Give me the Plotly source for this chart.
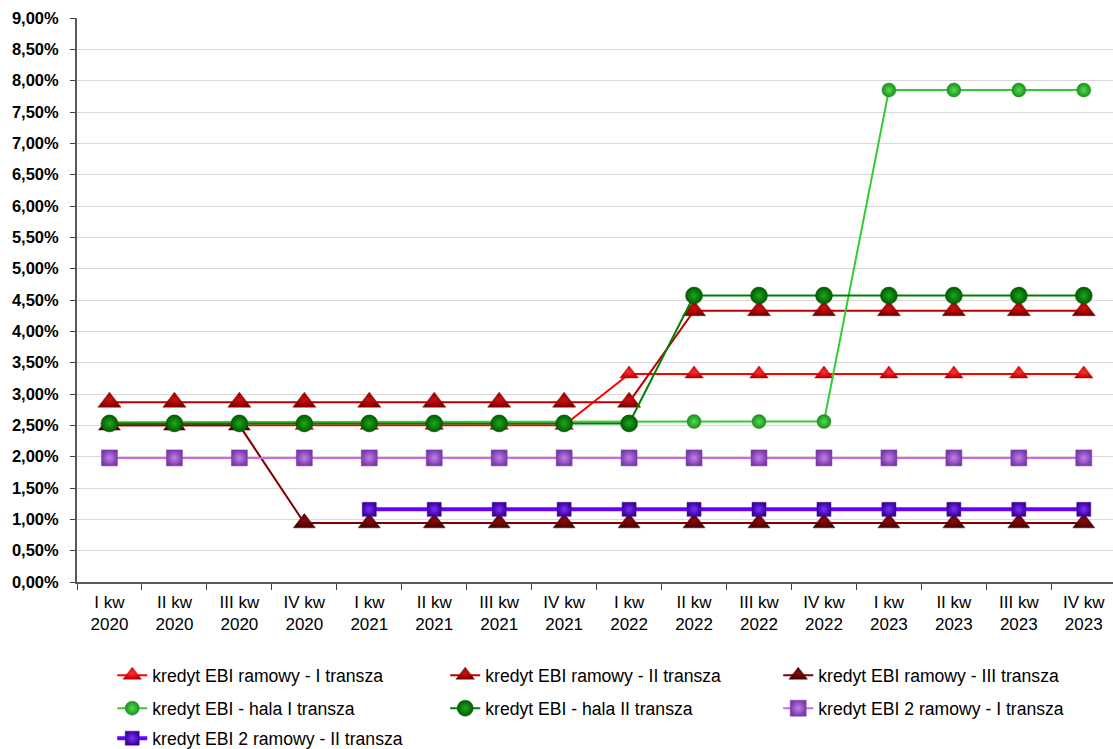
import plotly.graph_objects as go

quarters = ["I kw<br>2020", "II kw<br>2020", "III kw<br>2020", "IV kw<br>2020",
            "I kw<br>2021", "II kw<br>2021", "III kw<br>2021", "IV kw<br>2021",
            "I kw<br>2022", "II kw<br>2022", "III kw<br>2022", "IV kw<br>2022",
            "I kw<br>2023", "II kw<br>2023", "III kw<br>2023", "IV kw<br>2023"]

ramowy_1 = [2.50, 2.50, 2.50, 2.50, 2.50, 2.50, 2.50, 2.50,
            3.32, 3.32, 3.32, 3.32, 3.32, 3.32, 3.32, 3.32]
ramowy_2 = [2.87, 2.87, 2.87, 2.87, 2.87, 2.87, 2.87, 2.87,
            2.87, 4.33, 4.33, 4.33, 4.33, 4.33, 4.33, 4.33]
ramowy_3 = [2.50, 2.50, 2.50, 0.94, 0.94, 0.94, 0.94, 0.94,
            0.94, 0.94, 0.94, 0.94, 0.94, 0.94, 0.94, 0.94]
hala_1 = [2.55, 2.55, 2.55, 2.55, 2.55, 2.55, 2.55, 2.55,
          2.55, 2.56, 2.56, 2.56, 7.85, 7.85, 7.85, 7.85]
hala_2 = [2.53, 2.53, 2.53, 2.53, 2.53, 2.53, 2.53, 2.53,
          2.53, 4.57, 4.57, 4.57, 4.57, 4.57, 4.57, 4.57]
ramowy2_1 = [1.98] * 16
ramowy2_2 = [None, None, None, None, 1.16, 1.16, 1.16, 1.16,
             1.16, 1.16, 1.16, 1.16, 1.16, 1.16, 1.16, 1.16]

names = ["kredyt EBI ramowy - I transza", "kredyt EBI ramowy - II transza",
         "kredyt EBI ramowy - III transza", "kredyt EBI - hala I transza",
         "kredyt EBI - hala II transza", "kredyt EBI 2 ramowy - I transza",
         "kredyt EBI 2 ramowy - II transza"]

FONT = "Liberation Sans, Arial, sans-serif"

# (values, line colour, line width, symbol, size, edge colour, centre colour, legend)
styles = [
    (ramowy_1, "#FF0000", 2, "triangle-up", 16, "#C00000", "#FF3030", "legend"),
    (ramowy_2, "#C00000", 2, "triangle-up", 20, "#800000", "#D01010", "legend"),
    (ramowy_3, "#800000", 2, "triangle-up", 19, "#4A0000", "#8A0A0A", "legend"),
    (hala_1, "#33CC33", 2, "circle", 14, "#1E8E1E", "#4FE04F", "legend2"),
    (hala_2, "#008000", 2, "circle", 17, "#005A00", "#1FA81F", "legend2"),
    (ramowy2_1, "#CC66FF", 2, "square", 16, "#7A3AA8", "#C080F0", "legend2"),
    (ramowy2_2, "#6600FF", 4, "square", 14, "#3D0099", "#7733FF", "legend3"),
]

fig = go.Figure()
for name, (vals, lc, lw, sym, size, edge, centre, leg) in zip(names, styles):
    fig.add_trace(go.Scatter(
        x=quarters, y=vals, name=name, mode="lines+markers",
        line=dict(color=lc, width=lw),
        marker=dict(symbol=sym, size=size, color=edge,
                    gradient=dict(type="radial", color=centre),
                    line=dict(color=edge, width=0.5)),
        legend=leg, connectgaps=False,
    ))

leg_common = dict(orientation="h", xanchor="left", yanchor="middle",
                  font=dict(family=FONT, size=17.6, color="#000000"),
                  entrywidth=288, entrywidthmode="pixels",
                  bgcolor="rgba(0,0,0,0)", itemclick=False)

fig.update_layout(
    width=1113, height=749,
    margin=dict(l=77, r=0, t=18, b=167, autoexpand=False),
    paper_bgcolor="white", plot_bgcolor="white",
    separators=", ",
    font=dict(family=FONT, size=16, color="#000000"),
    legend=dict(x=0.034, y=-0.1653, **leg_common),
    legend2=dict(x=0.034, y=-0.2238, **leg_common),
    legend3=dict(x=0.034, y=-0.2770, **leg_common),
    xaxis=dict(
        type="category", range=[-0.5, 15.45], automargin=False,
        showgrid=False, showline=True, linecolor="#595959", linewidth=1.5,
        ticks="outside", tickson="boundaries", ticklen=6, tickcolor="#404040",
        ticklabelstandoff=4,
        tickfont=dict(family=FONT, size=17, color="#000000"),
        fixedrange=True,
    ),
    yaxis=dict(
        range=[0, 9], dtick=0.5, tick0=0, automargin=False,
        tickformat=".2f", ticksuffix="%",
        showgrid=True, gridcolor="#D9D9D9", gridwidth=1,
        showline=True, linecolor="#595959", linewidth=2,
        ticks="outside", ticklen=5, tickcolor="#404040",
        ticklabelstandoff=8,
        tickfont=dict(family=FONT, size=16.5, color="#000000", weight="bold"),
        zeroline=False, fixedrange=True,
    ),
)

fig.write_html("out.html")
